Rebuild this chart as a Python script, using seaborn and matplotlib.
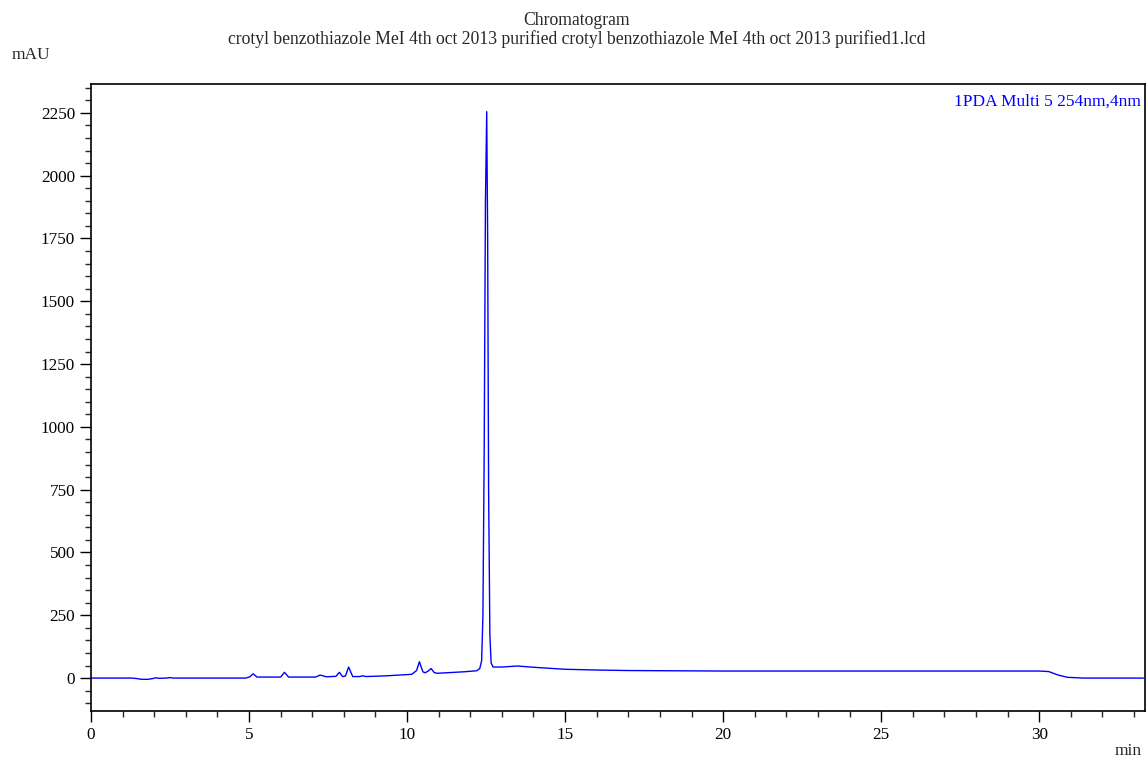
import numpy as np
import pandas as pd
import matplotlib
matplotlib.use("Agg")
import matplotlib.pyplot as plt
from matplotlib.ticker import MultipleLocator
import seaborn as sns

# === DATA ===
time_min = [0.0, 1.3, 1.45, 1.6, 1.8, 1.95, 2.05, 2.15, 2.4, 2.5, 2.6, 4.9,
            5.02, 5.13, 5.25, 6.0, 6.12, 6.25, 7.1, 7.25, 7.45, 7.75, 7.86,
            7.96, 8.05, 8.15, 8.28, 8.5, 8.6, 8.7, 9.35, 10.15, 10.3, 10.39,
            10.5, 10.57, 10.67, 10.76, 10.86, 10.95, 11.8, 12.2,
            12.30, 12.36, 12.40, 12.44, 12.48, 12.52, 12.55, 12.58, 12.62,
            12.66, 12.72, 13.0, 13.5, 14.0, 15.0, 16.0, 17.0, 20.0, 25.0,
            30.0, 30.3, 30.6, 30.9, 31.4, 33.3]
signal_mau = [0, 0, -2, -5, -5, -2, 1, -1, 0, 2, 0, 0,
              5, 17, 4, 4, 23, 4, 4, 12, 5, 7, 23,
              6, 8, 44, 6, 6, 9, 6, 9, 15, 30, 65,
              25, 21, 28, 38, 22, 19, 25, 29,
              38, 70, 250, 900, 1900, 2255, 1750, 750, 170,
              60, 44, 44, 48, 43, 35, 32, 30, 28, 28,
              28, 26, 12, 3, 0, 0]

TITLE_1 = "Chromatogram"
TITLE_2 = ("crotyl benzothiazole MeI 4th oct 2013 purified crotyl benzothiazole "
           "MeI 4th oct 2013 purified1.lcd")
TRACE_LABEL = "1PDA Multi 5 254nm,4nm"

sns.set_style("ticks")
plt.rcParams['font.family'] = ['Liberation Serif', 'DejaVu Serif']
plt.rcParams['font.size'] = 12

df = pd.DataFrame({"t": time_min, "mau": signal_mau})

fig = plt.figure(figsize=(11.48, 7.6), dpi=100)
ax = fig.add_axes([0.0793, 0.0645, 0.9181, 0.825])

sns.lineplot(data=df, x="t", y="mau", color="blue", lw=1.0, ax=ax,
             estimator=None, sort=False)

ax.set_xlim(0, 33.35)
ax.set_ylim(-131, 2365)
ax.xaxis.set_major_locator(MultipleLocator(5))
ax.xaxis.set_minor_locator(MultipleLocator(1))
ax.yaxis.set_major_locator(MultipleLocator(250))
ax.yaxis.set_minor_locator(MultipleLocator(50))
ax.tick_params(which="major", length=8, width=1, direction="out",
               labelsize=12.3, colors="black")
ax.tick_params(which="minor", length=4, width=1, direction="out")
ax.set_xlabel("")
ax.set_ylabel("")
for s in ax.spines.values():
    s.set_visible(True)
    s.set_color("black")
    s.set_linewidth(1.2)

ax.text(0.9965, 0.985, TRACE_LABEL, transform=ax.transAxes, ha="right",
        va="top", color="blue", fontsize=12.5)

fig.text(0.502, 0.973, TITLE_1, ha="center", va="center", fontsize=12.7)
fig.text(0.502, 0.949, TITLE_2, ha="center", va="center", fontsize=12.7)
fig.text(0.010, 0.928, "mAU", ha="left", va="center", fontsize=12.5)
fig.text(0.971, 0.012, "min", ha="left", va="center", fontsize=12.5)

fig.savefig("out.png", dpi=100)
